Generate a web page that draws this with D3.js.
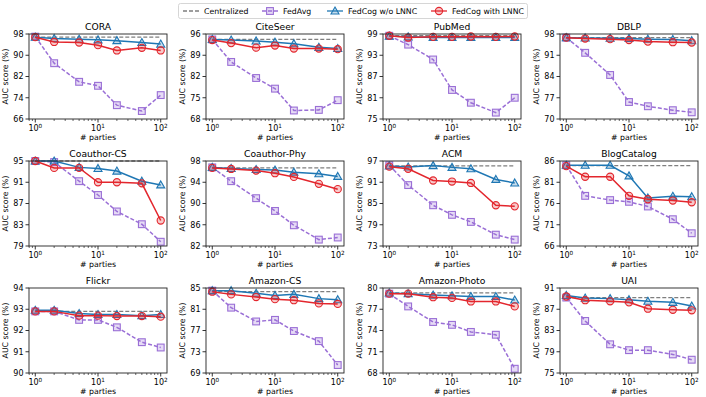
<!DOCTYPE html>
<html>
<head>
<meta charset="utf-8">
<title>AUC vs parties</title>
<script src="https://cdn.jsdelivr.net/npm/d3@7"></script>
<style>
  body { margin: 0; background: #fff; }
  text { font-family: "DejaVu Sans", sans-serif; fill: #000; }
</style>
</head>
<body>
<div id="chart"></div>
<script>
// number of parties on the x axis
const parties = [1, 2, 5, 10, 20, 50, 100];

const datasets = ["CORA", "CiteSeer", "PubMed", "DBLP", "Coauthor-CS", "Coauthor-Phy",
                  "ACM", "BlogCatalog", "Flickr", "Amazon-CS", "Amazon-Photo", "UAI"];

// y ticks per panel (first and last are the axis limits)
const yTicks = [
  [66, 74, 82, 90, 98], [68, 75, 82, 89, 96], [75, 81, 87, 93, 99], [70, 77, 84, 91, 98],
  [79, 83, 87, 91, 95], [82, 86, 90, 94, 98], [73, 79, 85, 91, 97], [66, 71, 76, 81, 86],
  [90, 91, 92, 93, 94], [69, 73, 77, 81, 85], [68, 71, 74, 77, 80], [75, 79, 83, 87, 91]
];

const centralized = [96.8, 94.2, 98.5, 96.8, 95.0, 96.7, 95.6, 84.9, 92.9, 84.3, 79.3, 89.2];

const fedAvg = [
  [97.0, 87.0, 80.0, 78.5, 71.2, 69.0, 75.0],
  [94.2, 86.8, 81.5, 78.0, 70.8, 71.0, 74.2],
  [98.5, 96.0, 91.8, 83.2, 79.6, 76.8, 81.0],
  [96.8, 91.8, 84.5, 75.6, 74.2, 72.9, 72.2],
  [95.0, 94.8, 91.2, 88.6, 85.5, 83.1, 79.8],
  [96.8, 94.2, 91.0, 88.6, 85.9, 83.2, 83.6],
  [95.8, 90.2, 84.5, 81.8, 79.8, 76.2, 74.8],
  [85.0, 77.8, 76.8, 76.4, 75.3, 72.3, 69.0],
  [92.9, 92.9, 92.5, 92.5, 92.15, 91.45, 91.2],
  [84.5, 81.3, 78.7, 79.0, 76.9, 75.0, 70.5],
  [79.2, 77.4, 75.2, 74.8, 73.8, 73.4, 68.6],
  [89.2, 84.8, 80.4, 79.3, 79.3, 78.5, 77.5]
];

const fedCogNoLNNC = [
  [96.8, 96.3, 96.0, 95.8, 95.5, 94.8, 94.2],
  [94.2, 94.0, 93.7, 93.3, 92.8, 91.6, 91.2],
  [98.4, 98.2, 98.0, 98.0, 98.0, 98.0, 98.0],
  [96.8, 96.7, 96.6, 96.5, 96.3, 96.2, 95.8],
  [95.0, 95.0, 93.8, 93.6, 93.1, 91.2, 90.5],
  [96.8, 96.6, 96.4, 96.3, 95.9, 95.6, 95.1],
  [95.6, 95.3, 95.7, 95.2, 94.8, 91.8, 90.8],
  [85.0, 85.0, 85.0, 82.5, 77.3, 77.7, 77.6],
  [92.95, 92.95, 92.8, 92.75, 92.75, 92.7, 92.75],
  [84.5, 84.5, 84.0, 83.6, 83.8, 83.0, 82.8],
  [79.3, 79.2, 79.0, 78.9, 78.8, 78.8, 78.3],
  [89.6, 89.1, 89.0, 88.8, 88.5, 88.3, 87.6]
];

const fedCogLNNC = [
  [96.8, 95.0, 94.8, 93.8, 91.8, 92.8, 91.8],
  [94.0, 93.0, 91.5, 92.2, 91.2, 91.2, 91.0],
  [98.5, 98.0, 98.2, 98.2, 98.3, 98.2, 98.3],
  [96.8, 96.5, 96.3, 96.0, 95.5, 95.3, 95.2],
  [95.0, 93.7, 93.7, 91.0, 91.0, 90.8, 83.8],
  [96.7, 96.5, 96.2, 95.7, 95.0, 93.7, 92.7],
  [95.4, 94.8, 91.5, 91.2, 90.8, 84.5, 84.2],
  [84.8, 82.3, 82.3, 77.8, 77.0, 76.7, 76.3],
  [92.9, 92.9, 92.7, 92.7, 92.68, 92.68, 92.65],
  [84.3, 83.8, 83.3, 82.9, 82.7, 82.1, 82.0],
  [79.2, 79.2, 78.7, 78.6, 78.1, 78.1, 77.4],
  [89.4, 88.7, 88.5, 88.3, 87.1, 86.9, 86.8]
];

const seriesNames = ["Centralized", "FedAvg", "FedCog w/o LNNC", "FedCog with LNNC"];

const W = 706, H = 397;
const colX = [29, 206, 383, 560], rowY = [34, 161, 288];
const pw = 138, ph = 85;

const gray = "#7f7f7f", purple = "#9a6fd6", blue = "#1f77b4", red = "#e3262d";

const svg = d3.select("#chart").append("svg")
  .attr("width", W).attr("height", H);

const x = d3.scaleLog().domain([Math.pow(10, -0.1), Math.pow(10, 2.1)]).range([0, pw]);

function marker(g, kind, color, cx, cy) {
  if (kind === "square") {
    g.append("rect").attr("x", cx - 3.4).attr("y", cy - 3.4).attr("width", 6.8).attr("height", 6.8)
      .attr("fill", color).attr("fill-opacity", 0.25).attr("stroke", color).attr("stroke-width", 1.1);
  } else if (kind === "triangle") {
    const s = 4;
    g.append("path").attr("d", `M${cx},${cy - s}L${cx + s},${cy + s * 0.75}L${cx - s},${cy + s * 0.75}Z`)
      .attr("fill", color).attr("fill-opacity", 0.25).attr("stroke", color).attr("stroke-width", 1.1);
  } else if (kind === "circle") {
    g.append("circle").attr("cx", cx).attr("cy", cy).attr("r", 3.6)
      .attr("fill", color).attr("fill-opacity", 0.25).attr("stroke", color).attr("stroke-width", 1.1);
  }
}

datasets.forEach((name, i) => {
  const r = Math.floor(i / 4), c = i % 4;
  const g = svg.append("g").attr("transform", `translate(${colX[c]},${rowY[r]})`);
  const ticks = yTicks[i];
  const y = d3.scaleLinear().domain([ticks[0], ticks[ticks.length - 1]]).range([ph, 0]);

  // title
  g.append("text").attr("x", pw / 2).attr("y", -4).attr("text-anchor", "middle")
    .style("font-size", "9.2px").text(name);

  // y axis
  ticks.forEach(t => {
    g.append("line").attr("x1", -3.5).attr("x2", 0).attr("y1", y(t)).attr("y2", y(t))
      .attr("stroke", "#000").attr("stroke-width", 0.8);
    g.append("text").attr("x", -5.5).attr("y", y(t)).attr("dy", "0.35em")
      .attr("text-anchor", "end").style("font-size", "8px").text(t);
  });
  g.append("text").attr("transform", `translate(${-21},${ph / 2}) rotate(-90)`)
    .attr("text-anchor", "middle").style("font-size", "7.8px").text("AUC score (%)");

  // x axis major + minor ticks
  const minor = [0.8, 0.9, 2, 3, 4, 5, 6, 7, 8, 9, 20, 30, 40, 50, 60, 70, 80, 90];
  minor.forEach(t => {
    g.append("line").attr("x1", x(t)).attr("x2", x(t)).attr("y1", ph).attr("y2", ph + 2)
      .attr("stroke", "#000").attr("stroke-width", 0.6);
  });
  [0, 1, 2].forEach(e => {
    const xv = x(Math.pow(10, e));
    g.append("line").attr("x1", xv).attr("x2", xv).attr("y1", ph).attr("y2", ph + 3.5)
      .attr("stroke", "#000").attr("stroke-width", 0.8);
    const t = g.append("text").attr("x", xv).attr("y", ph + 12).attr("text-anchor", "middle")
      .style("font-size", "8px");
    t.append("tspan").text("10");
    t.append("tspan").attr("dy", -3.5).style("font-size", "5.7px").text(e);
  });
  g.append("text").attr("x", pw / 2).attr("y", ph + 21).attr("text-anchor", "middle")
    .style("font-size", "7.8px").text("# parties");

  const line = d3.line().x((d, k) => x(parties[k])).y(d => y(d));

  // centralized reference
  g.append("line").attr("x1", x(parties[0])).attr("x2", x(parties[parties.length - 1]))
    .attr("y1", y(centralized[i])).attr("y2", y(centralized[i]))
    .attr("stroke", gray).attr("stroke-width", 1.3).attr("stroke-dasharray", "4,2");

  const series = [
    { vals: fedAvg[i], color: purple, dash: "4,2", m: "square" },
    { vals: fedCogNoLNNC[i], color: blue, dash: null, m: "triangle" },
    { vals: fedCogLNNC[i], color: red, dash: null, m: "circle" }
  ];
  series.forEach(s => {
    g.append("path").datum(s.vals).attr("d", line).attr("fill", "none")
      .attr("stroke", s.color).attr("stroke-width", 1.5)
      .attr("stroke-dasharray", s.dash);
    s.vals.forEach((v, k) => marker(g, s.m, s.color, x(parties[k]), y(v)));
  });

  // frame
  g.append("rect").attr("width", pw).attr("height", ph).attr("fill", "none")
    .attr("stroke", "#222").attr("stroke-width", 0.9);
});

// legend
const lg = svg.append("g");
lg.append("rect").attr("x", 178.5).attr("y", 3.5).attr("width", 349).attr("height", 15)
  .attr("fill", "#fff").attr("stroke", "#ccc").attr("stroke-width", 0.8).attr("rx", 2);
const legendItems = [
  { x: 183, color: gray, dash: "4,2", m: null },
  { x: 262, color: purple, dash: "4,2", m: "square" },
  { x: 327, color: blue, dash: null, m: "triangle" },
  { x: 431, color: red, dash: null, m: "circle" }
];
legendItems.forEach((it, k) => {
  lg.append("line").attr("x1", it.x).attr("x2", it.x + 16).attr("y1", 11).attr("y2", 11)
    .attr("stroke", it.color).attr("stroke-width", 1.3).attr("stroke-dasharray", it.dash);
  if (it.m) marker(lg, it.m, it.color, it.x + 8, 11);
  lg.append("text").attr("x", it.x + 21).attr("y", 11).attr("dy", "0.35em")
    .style("font-size", "7.8px").text(seriesNames[k]);
});
</script>
</body>
</html>
